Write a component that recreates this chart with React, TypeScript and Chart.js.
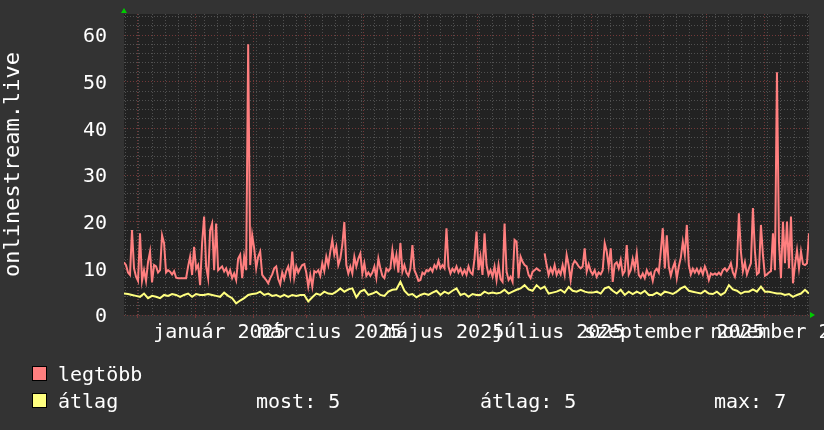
import React, { useEffect, useRef } from 'react';
import { Chart, registerables } from 'chart.js';
Chart.register(...registerables);

// ---- data ----
const START = Date.UTC(2024, 10, 24);
const END = Date.UTC(2025, 10, 25);
const DAY_MS = 86400000;
const SPAN_DAYS = (END - START) / DAY_MS;

const MONTH_STARTS: [number, number][] = [
  [2024, 11], [2025, 0], [2025, 1], [2025, 2], [2025, 3], [2025, 4],
  [2025, 5], [2025, 6], [2025, 7], [2025, 8], [2025, 9], [2025, 10],
];
const X_LABEL_MONTHS: [number, number][] = [
  [2025, 0], [2025, 2], [2025, 4], [2025, 6], [2025, 8], [2025, 10],
];
const X_LABELS = ['január 2025', 'március 2025', 'május 2025', 'július 2025', 'szeptember 2025', 'november 2025'];

const Y_MAX = 64.5;
const Y_LABEL_STEP = 10;
const Y_MINOR_STEP = 2;

const SERIES_NAMES = ['legtöbb', 'átlag'];
const AXIS_TITLE = 'onlinestream.live';

// "legtöbb" (max) per period
const MAX_VALUES: (number | null)[] = [
  11.3, 10.7, 9.1, 8.6, 18.2, 10, 8.2, 7.3, 17.5, 7.3, 9.6, 7.3, 11.4, 13.6, 7, 10.7, 10.4, 9.1, 9.6, 17.1,
  15.4, 9.1, 9.6, 9.3, 8.7, 9.4, 8, 7.9, 7.9, 7.9, 7.9, 7.9, 10.4, 12.5, 8.6, 14.6, 9.9, 10.7, 6.4, 15.4,
  21.1, 10.4, 7.9, 18.2, 19.6, 9.6, 19.6, 9.6, 10, 10.4, 9.3, 10, 8.6, 9.6, 7.9, 8.9, 7.5, 12.1,
  12.9, 7.9, 12.5, 9.6, 58, 10.7, 17.1, 14.3, 10, 12.5, 13.6, 8.6, 8, 7.5, 6.8, 7.9, 8.7, 10, 10.4, 7.7,
  6.6, 9.1, 7.7, 9.4, 10.4, 8.2, 13.6, 8, 10.4, 9.1, 10, 10.7, 10.9, 9.1, 6.1, 8.6, 6.1, 9.4, 9.1, 9.6,
  8.4, 11.1, 9.4, 12.5, 10.7, 13.6, 16.1, 12.9, 14.6, 10.7, 12.1, 15, 19.9, 10.7, 8.9, 10.4, 8.9, 12.5,
  10.4, 12.1, 13.2, 8.9, 11.1, 8.4, 9.1, 8.4, 9.1, 10.4, 8, 12.1, 10, 8.4, 7.9, 9.9, 9.4, 10, 13.9, 10.7,
  12.9, 9.1, 15.4, 9.3, 10.7, 9.1, 8.4, 10, 15, 9.6, 8.6, 7.3, 7.5, 9.1, 8.7, 9.6, 9.4, 10, 9.3, 10.7,
  10, 11.6, 10, 10.7, 10, 18.6, 10.4, 8.9, 9.9, 9.3, 10.4, 9.1, 9.9, 8.7, 9.6, 8.6, 10.4, 9.1,
  8.7, 12.1, 17.9, 9.6, 12.5, 8.6, 17.5, 10.7, 8.6, 9.6, 8.2, 10.4, 7.5, 10.7, 7.7, 7.1, 19.6, 9.3, 7.5, 8.2,
  7.1, 16.1, 15.7, 7.9, 12.5, 11.4, 10.7, 10.4, 8.6, 7.9, 9.3, 9.6, 10, 9.6, 9.4, null, 13.2, 10.7, 8.6, 10,
  8.9, 10.7, 8.6, 9.6, 8.7, 10.7, 8.6, 12.9, 10.7, 7.5, 10.7, 11.6, 11.1, 10.4, 10, 10.4, 14.3, 9.3,
  10.9, 9.4, 8.7, 9.6, 8.2, 9.1, 8.7, 9.6, 15.4, 13.6, 10.4, 14.3, 7.1, 10.9, 11.3, 10, 11.8, 8.7, 9.4, 15,
  8.7, 9.6, 12, 10, 13.2, 8.6, 8, 8.9, 7.9, 9.6, 8.6, 9.1, 7.3, 9.4, 9.9, 9.1, 13.6, 18.6, 10, 17.1,
  10.4, 8.4, 10.1, 11.3, 7.9, 10.4, 12.3, 15.7, 12.9, 19.3, 10.7, 8.7, 9.9, 9.1, 9.9, 8.9, 9.9, 8.7,
  10.4, 9.3, 7.5, 8.9, 8.6, 8.9, 8.6, 9.1, 8.6, 9.6, 10, 9.4, 10, 11.1, 9.1, 8.2, 10.4, 21.8, 13.6, 9.4,
  11.3, 8.7, 10, 11.1, 22.9, 13.6, 8.7, 9.1, 19.3, 12.9, 8.4, 8.7, 9.1, 9.4, 17.5, 9.6, 52, 15.7, 7.9, 20,
  11.1, 20, 10, 21.1, 6.8, 10.7, 13.9, 10, 13.6, 10.9, 10.7, 11.1, 17.5,
];

// "átlag" (average) per period
const AVG_VALUES: (number | null)[] = [
  4.6, 4.5, 4.3, 4.1, 3.9, 4.6, 3.6, 4.1, 3.9, 3.6, 4.3, 4.1, 4.5, 4.3, 3.9, 4.3, 4.6, 3.9, 4.5, 4.3,
  4.3, 4.5, 4.3, 4.1, 3.9, 4.8, 4.1, 3.6, 2.5, 3.1, 3.6, 4.3, 4.5, 4.6, 5, 4.3, 4.6, 4.1, 4.3, 3.9,
  4.3, 3.9, 4.3, 4.1, 4.3, 4.3, 2.9, 3.8, 4.6, 4.3, 5, 4.6, 4.5, 5, 5.7, 5, 5.5, 5.7, 3.8, 5,
  5.4, 4.3, 4.6, 5, 4.3, 4.1, 5, 5.4, 5.5, 7.1,
  5.2, 4.3, 4.5, 3.8, 4.3, 4.6, 4.3, 4.8, 5.2, 4.3, 5, 4.6, 5.2, 5.7, 4.3, 4.6, 3.9, 4.5, 4.3, 4.3,
  5, 4.6, 4.8, 4.6, 4.8, 5.4, 4.6, 5, 5.4, 5.7, 6.4, 5.5, 5.2, 6.4, 5.6, 6.1, 4.6, 4.8, 5, 5.4,
  4.8, 6, 5.2, 5, 5.4, 5, 4.8, 4.8, 5, 4.6, 5.7, 6, 5.2, 4.6, 5.4, 4.3, 5, 4.5, 5, 4.6,
  5.2, 4.3, 4.3, 4.8, 4.3, 5, 4.8, 4.5, 5, 5.7, 6.1, 5.2, 5, 4.8, 4.6, 5.2, 4.6, 4.5, 5, 4.3,
  4.8, 6.4, 5.5, 5.2, 4.6, 5, 5, 5.5, 5, 6.1, 5, 5, 4.8, 4.6, 4.6, 4.3, 4.5, 3.9, 4.3, 4.6,
  5.4, 4.6,
];

const RED = '#ff7f7f';
const YELLOW = '#ffff7f';
const MAJOR_GRID = '#733838';
const MINOR_GRID = '#505050';
const FONT = '"DejaVu Sans Mono", monospace';
const LABEL_DAY = 14;

const dayOf = (y: number, m: number, d = 1) => (Date.UTC(y, m, d) - START) / DAY_MS;

function toPoints(vals: (number | null)[]) {
  const step = SPAN_DAYS / (vals.length - 1);
  return vals.map((v, i) => ({ x: i * step, y: v }));
}

const numeric = (vals: (number | null)[]) => vals.filter((v): v is number => v !== null);
const avgNums = numeric(AVG_VALUES);
const STATS = [
  `most: ${Math.round(avgNums[avgNums.length - 1])}`,
  `átlag: ${Math.round(avgNums.reduce((a, b) => a + b, 0) / avgNums.length)}`,
  `max: ${Math.round(Math.max(...avgNums))}`,
];

const monthDays = MONTH_STARTS.map(([y, m]) => dayOf(y, m));
const weekDays: number[] = [];
for (let d = 1; d <= SPAN_DAYS; d += 7) weekDays.push(d);

export default function App() {
  const ref = useRef<HTMLCanvasElement>(null);
  useEffect(() => {
    const canvas = ref.current!;
    const decor = {
      id: 'decor',
      beforeDraw(chart: any) {
        const { ctx, chartArea: a } = chart;
        ctx.save();
        ctx.fillStyle = '#333333';
        ctx.fillRect(0, 0, chart.width, chart.height);
        ctx.fillStyle = '#222222';
        ctx.fillRect(a.left, a.top, a.right - a.left, a.bottom - a.top);
        ctx.restore();
      },
      afterDraw(chart: any) {
        const { ctx, chartArea: a } = chart;
        const xs = chart.scales.x;
        ctx.save();
        // month tick marks under the axis
        ctx.strokeStyle = MAJOR_GRID;
        ctx.lineWidth = 1;
        monthDays.forEach((d) => {
          const px = Math.round(xs.getPixelForValue(d)) + 0.5;
          ctx.beginPath();
          ctx.moveTo(px, a.bottom);
          ctx.lineTo(px, a.bottom + 3);
          ctx.stroke();
        });
        // x labels centred within their month
        ctx.font = `20px ${FONT}`;
        ctx.fillStyle = '#ffffff';
        ctx.textAlign = 'center';
        ctx.textBaseline = 'alphabetic';
        X_LABEL_MONTHS.forEach(([y, m], k) => {
          ctx.fillText(X_LABELS[k], xs.getPixelForValue(dayOf(y, m, LABEL_DAY)), a.bottom + 23);
        });
        // arrows
        ctx.fillStyle = '#00cc00';
        ctx.beginPath();
        ctx.moveTo(a.left - 3, a.top - 1);
        ctx.lineTo(a.left + 3, a.top - 1);
        ctx.lineTo(a.left, a.top - 6);
        ctx.fill();
        ctx.beginPath();
        ctx.moveTo(a.right + 1, a.bottom - 3);
        ctx.lineTo(a.right + 1, a.bottom + 3);
        ctx.lineTo(a.right + 6, a.bottom);
        ctx.fill();
        // legend
        ctx.textAlign = 'left';
        const rows = [
          { color: RED, name: SERIES_NAMES[0], base: 381 },
          { color: YELLOW, name: SERIES_NAMES[1], base: 408 },
        ];
        rows.forEach((r) => {
          ctx.fillStyle = r.color;
          ctx.fillRect(32, r.base - 15, 15, 15);
          ctx.strokeStyle = '#000';
          ctx.lineWidth = 1;
          ctx.strokeRect(32.5, r.base - 14.5, 14, 14);
          ctx.fillStyle = '#ffffff';
          ctx.fillText(r.name, 58, r.base);
        });
        const statX = [256, 480, 714];
        STATS.forEach((s, k) => ctx.fillText(s, statX[k], 408));
        ctx.restore();
      },
    };

    const chart = new Chart(canvas, {
      type: 'line',
      data: {
        datasets: [
          {
            label: SERIES_NAMES[0],
            data: toPoints(MAX_VALUES) as any,
            borderColor: RED,
            borderWidth: 2,
            pointRadius: 0,
            tension: 0,
            spanGaps: false,
          },
          {
            label: SERIES_NAMES[1],
            data: toPoints(AVG_VALUES) as any,
            borderColor: YELLOW,
            borderWidth: 2,
            pointRadius: 0,
            tension: 0,
            spanGaps: false,
          },
        ],
      },
      options: {
        animation: false,
        responsive: false,
        events: [],
        layout: { padding: { left: 0, top: 14, right: 15, bottom: 115 } },
        plugins: { legend: { display: false }, tooltip: { enabled: false } },
        scales: {
          x: {
            type: 'linear',
            min: 0,
            max: SPAN_DAYS,
            afterBuildTicks: (s: any) => {
              const vals = [...monthDays, ...weekDays.filter((d) => !monthDays.includes(d))].sort((p, q) => p - q);
              s.ticks = vals.map((v) => ({ value: v }));
            },
            afterFit: (s: any) => {
              s.height = 0;
              s.paddingLeft = 0;
              s.paddingRight = 0;
            },
            ticks: { display: false },
            grid: {
              drawTicks: false,
              color: (c: any) => (monthDays.includes(c.tick?.value) ? MAJOR_GRID : MINOR_GRID),
              lineWidth: 1,
            },
            border: { display: false, dash: [1, 2] },
          },
          y: {
            min: 0,
            max: Y_MAX,
            afterBuildTicks: (s: any) => {
              const t = [];
              for (let v = 0; v <= Y_MAX; v += Y_MINOR_STEP) t.push({ value: v });
              s.ticks = t;
            },
            afterFit: (s: any) => {
              s.width = 124;
              s.paddingTop = 0;
              s.paddingBottom = 0;
            },
            ticks: {
              autoSkip: false,
              padding: 17,
              labelOffset: 2,
              color: '#ffffff',
              font: { family: FONT, size: 20 },
              callback: (v: any) => (v % Y_LABEL_STEP === 0 ? String(v) : ''),
            },
            grid: {
              drawTicks: false,
              color: (c: any) => (c.tick && c.tick.value % Y_LABEL_STEP === 0 ? MAJOR_GRID : MINOR_GRID),
              lineWidth: 1,
            },
            border: { display: false, dash: [1, 2] },
            title: {
              display: true,
              text: AXIS_TITLE,
              color: '#ffffff',
              font: { family: FONT, size: 22 },
              padding: 0,
            },
          },
        },
      },
      plugins: [decor],
    });
    return () => chart.destroy();
  }, []);

  return (
    <div style={{ position: 'fixed', left: 0, top: 0, width: 824, height: 430, background: '#333' }}>
      <canvas ref={ref} width={824} height={430} style={{ display: 'block', width: 824, height: 430 }} />
    </div>
  );
}
